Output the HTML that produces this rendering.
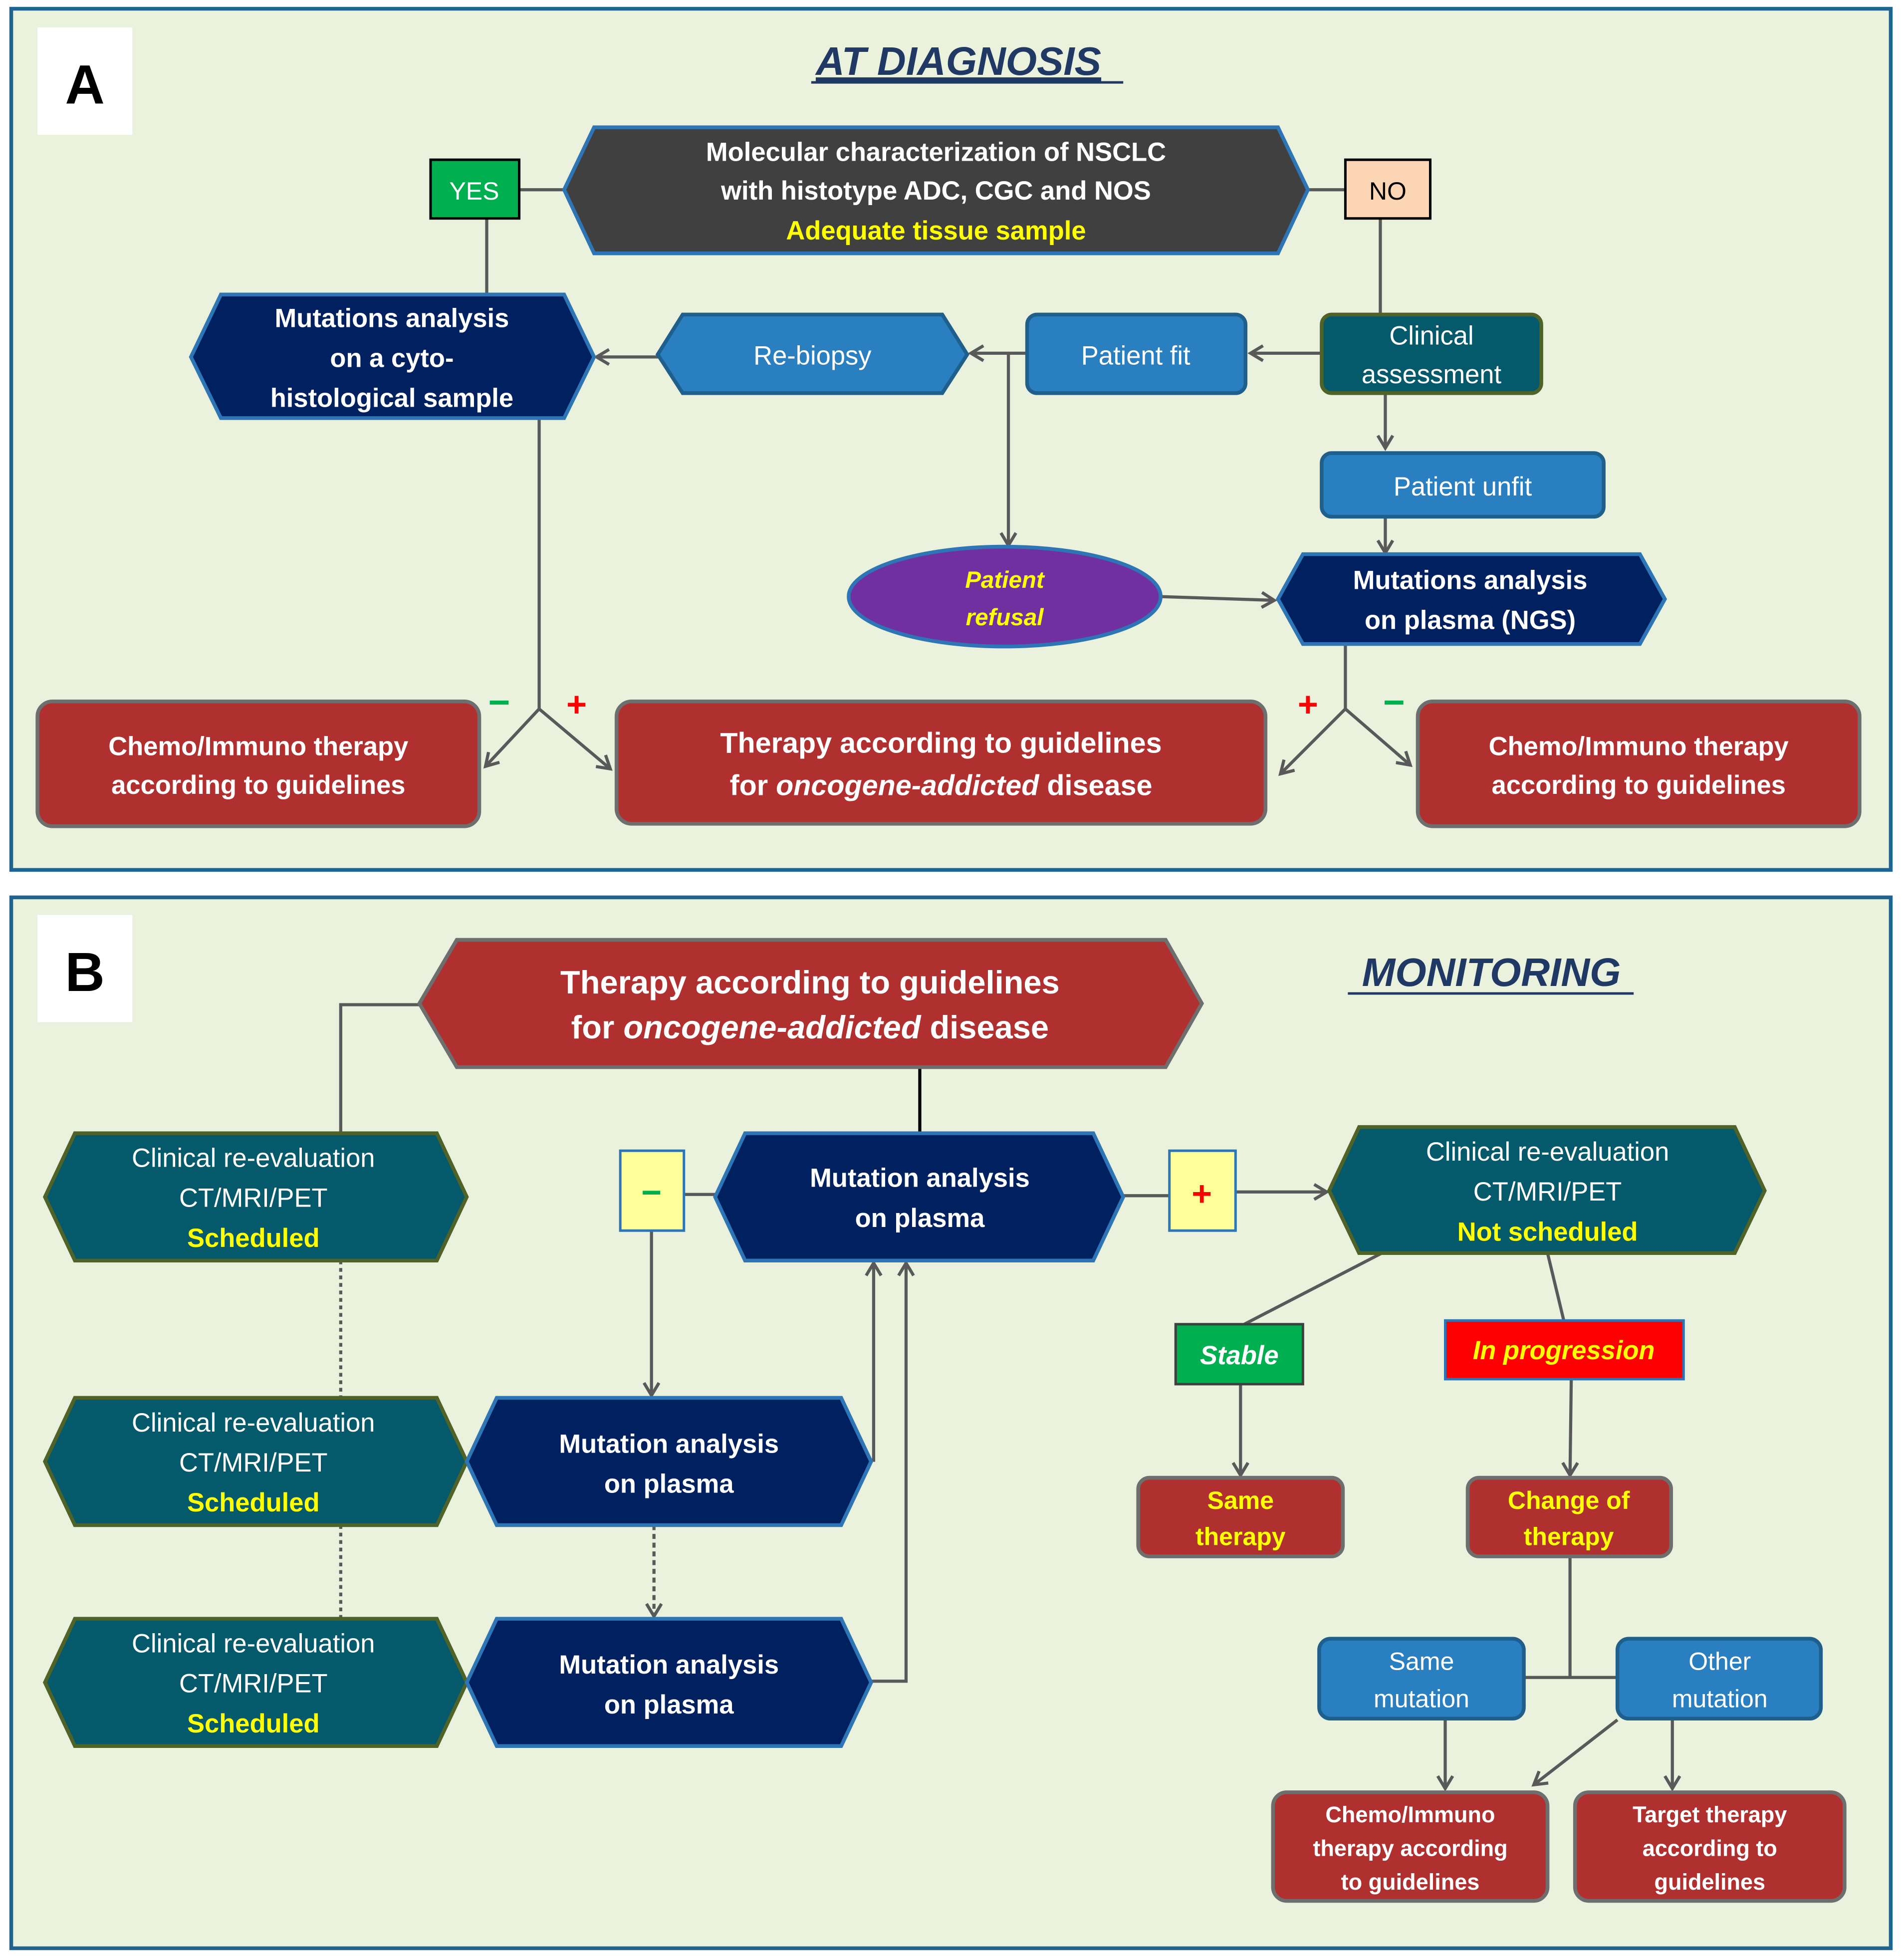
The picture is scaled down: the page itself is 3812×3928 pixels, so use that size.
<!DOCTYPE html>
<html><head><meta charset="utf-8"><style>
html,body{margin:0;padding:0;background:#fff;}
svg{display:block;}
text{font-family:"Liberation Sans",sans-serif;text-anchor:middle;}
.w{fill:#fff;font-weight:bold;}
.wn{fill:#fff;}
.y{fill:#FFFF00;font-weight:bold;}
.c{stroke:#595959;stroke-width:2.5;fill:none;}
</style></head><body>
<svg width="3812" height="3928" viewBox="0 0 1524 1570.4" xmlns="http://www.w3.org/2000/svg">
<defs>
<marker id="a" markerWidth="14" markerHeight="14" refX="11" refY="7" orient="auto" markerUnits="userSpaceOnUse">
<polyline points="1,1 11,7 1,13" fill="none" stroke="#595959" stroke-width="2.5"/>
</marker>
</defs>
<rect width="1524" height="1571" fill="#fff"/>
<rect x="9" y="7" width="1506" height="690" fill="#EAF1DD" stroke="#1F6391" stroke-width="3"/>
<rect x="9" y="719" width="1506" height="842" fill="#EAF1DD" stroke="#1F6391" stroke-width="3"/>
<rect x="30" y="22" width="76" height="86" fill="#fff"/>
<text x="68" y="83" font-size="44" font-weight="bold" fill="#000">A</text>
<rect x="30" y="733" width="76" height="86" fill="#fff"/>
<text x="68" y="794" font-size="44" font-weight="bold" fill="#000">B</text>

<!-- Panel A -->
<text x="768" y="60" font-size="32" font-weight="bold" font-style="italic" fill="#1F3864" text-decoration="underline">AT DIAGNOSIS</text>
<line x1="650" y1="66" x2="900" y2="66" stroke="#1F3864" stroke-width="2"/>

<!-- connectors A -->
<line class="c" x1="416" y1="152" x2="452" y2="152"/>
<line class="c" x1="1046" y1="152" x2="1078" y2="152"/>
<line class="c" x1="390" y1="175" x2="390" y2="237"/>
<line class="c" x1="1106" y1="175" x2="1106" y2="253"/>
<line class="c" x1="1059" y1="283" x2="1002" y2="283" marker-end="url(#a)"/>
<line class="c" x1="833" y1="283" x2="778" y2="283" marker-end="url(#a)"/>
<line class="c" x1="529" y1="286" x2="478" y2="286" marker-end="url(#a)"/>
<line class="c" x1="808" y1="283" x2="808" y2="437" marker-end="url(#a)"/>
<line class="c" x1="1110" y1="315" x2="1110" y2="359" marker-end="url(#a)"/>
<line class="c" x1="1110" y1="414" x2="1110" y2="443" marker-end="url(#a)"/>
<line class="c" x1="930" y1="478" x2="1021" y2="481" marker-end="url(#a)"/>
<polyline class="c" points="432,335 432,568"/>
<line class="c" x1="432" y1="568" x2="389" y2="614" marker-end="url(#a)"/>
<line class="c" x1="432" y1="568" x2="489" y2="616" marker-end="url(#a)"/>
<polyline class="c" points="1078,516 1078,568"/>
<line class="c" x1="1078" y1="568" x2="1026" y2="620" marker-end="url(#a)"/>
<line class="c" x1="1078" y1="568" x2="1130" y2="613" marker-end="url(#a)"/>
<text x="400" y="573" font-size="30" font-weight="bold" fill="#00B050">−</text>
<text x="462" y="574" font-size="28" font-weight="bold" fill="#FF0000">+</text>
<text x="1048" y="574" font-size="28" font-weight="bold" fill="#FF0000">+</text>
<text x="1117" y="573" font-size="30" font-weight="bold" fill="#00B050">−</text>

<!-- nodes A -->
<polygon points="476,102 1024,102 1048,152 1024,203 476,203 452,152" fill="#404040" stroke="#2E75B6" stroke-width="3"/>
<text class="w" x="750" y="129" font-size="21">Molecular characterization of NSCLC</text>
<text class="w" x="750" y="160" font-size="21">with histotype ADC, CGC and NOS</text>
<text class="y" x="750" y="192" font-size="21">Adequate tissue sample</text>
<rect x="345" y="128" width="71" height="47" fill="#00B050" stroke="#000" stroke-width="2"/>
<text class="wn" x="380" y="160" font-size="20">YES</text>
<rect x="1078" y="128" width="68" height="47" fill="#FCD5B4" stroke="#000" stroke-width="2"/>
<text x="1112" y="160" font-size="20" fill="#000">NO</text>

<polygon points="177,236 452,236 476,286 452,335 177,335 153,286" fill="#002060" stroke="#2E75B6" stroke-width="3"/>
<text class="w" x="314" y="262" font-size="21">Mutations analysis</text>
<text class="w" x="314" y="294" font-size="21">on a cyto-</text>
<text class="w" x="314" y="326" font-size="21">histological sample</text>

<polygon points="547,252 755,252 775,284 755,315 547,315 527,284" fill="#2A7FC1" stroke="#1F5F8B" stroke-width="3"/>
<text class="wn" x="651" y="292" font-size="21">Re-biopsy</text>
<rect x="823" y="252" width="175" height="63" rx="8" fill="#2A7FC1" stroke="#1F5F8B" stroke-width="3"/>
<text class="wn" x="910" y="292" font-size="21">Patient fit</text>
<rect x="1059" y="252" width="176" height="63" rx="8" fill="#04596A" stroke="#4F6228" stroke-width="3"/>
<text class="wn" x="1147" y="276" font-size="21">Clinical</text>
<text class="wn" x="1147" y="307" font-size="21">assessment</text>
<rect x="1059" y="363" width="226" height="51" rx="8" fill="#2A7FC1" stroke="#1F5F8B" stroke-width="3"/>
<text class="wn" x="1172" y="397" font-size="21">Patient unfit</text>
<ellipse cx="805" cy="478" rx="125" ry="40" fill="#7030A0" stroke="#2E75B6" stroke-width="3"/>
<text x="805" y="471" font-size="19" font-weight="bold" font-style="italic" fill="#FFFF00">Patient</text>
<text x="805" y="501" font-size="19" font-weight="bold" font-style="italic" fill="#FFFF00">refusal</text>
<polygon points="1044,444 1314,444 1334,480 1314,516 1044,516 1024,480" fill="#002060" stroke="#2E75B6" stroke-width="3"/>
<text class="w" x="1178" y="472" font-size="21">Mutations analysis</text>
<text class="w" x="1178" y="504" font-size="21">on plasma (NGS)</text>

<rect x="30" y="562" width="354" height="100" rx="12" fill="#B03030" stroke="#6E6E6E" stroke-width="3"/>
<text class="w" x="207" y="605" font-size="21">Chemo/Immuno  therapy</text>
<text class="w" x="207" y="636" font-size="21">according to guidelines</text>
<rect x="494" y="562" width="520" height="98" rx="12" fill="#B03030" stroke="#6E6E6E" stroke-width="3"/>
<text class="w" x="754" y="603" font-size="23">Therapy according to guidelines</text>
<text class="w" x="754" y="637" font-size="23">for <tspan font-style="italic">oncogene-addicted</tspan>  disease</text>
<rect x="1136" y="562" width="354" height="100" rx="12" fill="#B03030" stroke="#6E6E6E" stroke-width="3"/>
<text class="w" x="1313" y="605" font-size="21">Chemo/Immuno  therapy</text>
<text class="w" x="1313" y="636" font-size="21">according to guidelines</text>

<!-- Panel B -->
<text x="1195" y="790" font-size="32" font-weight="bold" font-style="italic" fill="#1F3864">MONITORING</text>
<line x1="1080" y1="796" x2="1309" y2="796" stroke="#1F3864" stroke-width="2"/>

<polyline class="c" points="336,805 273,805 273,908"/>
<line x1="737" y1="855" x2="737" y2="908" stroke="#000" stroke-width="2.5"/>
<line class="c" x1="273" y1="1010" x2="273" y2="1120" stroke-dasharray="3,3"/>
<line class="c" x1="273" y1="1222" x2="273" y2="1297" stroke-dasharray="3,3"/>
<line class="c" x1="548" y1="957" x2="575" y2="957"/>
<line class="c" x1="522" y1="986" x2="522" y2="1118" marker-end="url(#a)"/>
<line class="c" x1="524" y1="1222" x2="524" y2="1295" stroke-dasharray="4,3" marker-end="url(#a)"/>
<polyline class="c" points="698,1170 700,1170 700,1012" marker-end="url(#a)"/>
<polyline class="c" points="698,1347 726,1347 726,1012" marker-end="url(#a)"/>
<line class="c" x1="900" y1="958" x2="937" y2="958"/>
<line class="c" x1="990" y1="955" x2="1063" y2="955" marker-end="url(#a)"/>
<line class="c" x1="1115" y1="1000" x2="997" y2="1061"/>
<line class="c" x1="1240" y1="1004" x2="1253" y2="1058"/>
<line class="c" x1="994" y1="1109" x2="994" y2="1182" marker-end="url(#a)"/>
<line class="c" x1="1259" y1="1105" x2="1258" y2="1182" marker-end="url(#a)"/>
<polyline class="c" points="1258,1247 1258,1344"/>
<line class="c" x1="1220" y1="1344" x2="1296" y2="1344"/>
<line class="c" x1="1158" y1="1377" x2="1158" y2="1433" marker-end="url(#a)"/>
<line class="c" x1="1340" y1="1377" x2="1340" y2="1433" marker-end="url(#a)"/>
<line class="c" x1="1296" y1="1378" x2="1229" y2="1430" marker-end="url(#a)"/>

<polygon points="366,753 934,753 963,804 934,855 366,855 336,804" fill="#B03030" stroke="#6E6E6E" stroke-width="3"/>
<text class="w" x="649" y="796" font-size="26">Therapy according to guidelines</text>
<text class="w" x="649" y="832" font-size="26">for <tspan font-style="italic">oncogene-addicted</tspan>  disease</text>

<g id="cr">
<polygon points="60,908 350,908 374,959 350,1010 60,1010 36,959" fill="#04596A" stroke="#4F6228" stroke-width="3"/>
<text class="wn" x="203" y="935" font-size="21">Clinical re-evaluation</text>
<text class="wn" x="203" y="967" font-size="21">CT/MRI/PET</text>
<text class="y" x="203" y="999" font-size="21">Scheduled</text>
</g>
<use href="#cr" y="212"/>
<use href="#cr" y="389"/>

<polygon points="597,908 876,908 900,959 876,1010 597,1010 573,959" fill="#002060" stroke="#2E75B6" stroke-width="3"/>
<text class="w" x="737" y="951" font-size="21">Mutation analysis</text>
<text class="w" x="737" y="983" font-size="21">on plasma</text>
<g id="mp">
<polygon points="398,1120 674,1120 698,1171 674,1222 398,1222 374,1171" fill="#002060" stroke="#2E75B6" stroke-width="3"/>
<text class="w" x="536" y="1164" font-size="21">Mutation analysis</text>
<text class="w" x="536" y="1196" font-size="21">on plasma</text>
</g>
<use href="#mp" y="177"/>

<rect x="497" y="922" width="51" height="64" fill="#FFFF99" stroke="#2E75B6" stroke-width="2"/>
<text x="522" y="965" font-size="28" font-weight="bold" fill="#00B050">−</text>
<rect x="937" y="922" width="53" height="64" fill="#FFFF99" stroke="#2E75B6" stroke-width="2"/>
<text x="963" y="966" font-size="28" font-weight="bold" fill="#FF0000">+</text>

<polygon points="1089,903 1390,903 1414,954 1390,1004 1089,1004 1065,954" fill="#04596A" stroke="#4F6228" stroke-width="3"/>
<text class="wn" x="1240" y="930" font-size="21">Clinical re-evaluation</text>
<text class="wn" x="1240" y="962" font-size="21">CT/MRI/PET</text>
<text class="y" x="1240" y="994" font-size="21">Not scheduled</text>

<rect x="942" y="1061" width="102" height="48" fill="#00B050" stroke="#3F3F3F" stroke-width="2"/>
<text class="w" x="993" y="1093" font-size="21" font-style="italic">Stable</text>
<rect x="1158" y="1058" width="191" height="47" fill="#FF0000" stroke="#2E75B6" stroke-width="2"/>
<text class="y" x="1253" y="1089" font-size="21" font-style="italic">In progression</text>

<rect x="912" y="1184" width="164" height="63" rx="9" fill="#B03030" stroke="#6E6E6E" stroke-width="3"/>
<text class="y" x="994" y="1209" font-size="20">Same</text>
<text class="y" x="994" y="1238" font-size="20">therapy</text>
<rect x="1176" y="1184" width="163" height="63" rx="9" fill="#B03030" stroke="#6E6E6E" stroke-width="3"/>
<text class="y" x="1257" y="1209" font-size="20">Change of</text>
<text class="y" x="1257" y="1238" font-size="20">therapy</text>

<rect x="1057" y="1313" width="164" height="64" rx="9" fill="#2A7FC1" stroke="#1F5F8B" stroke-width="3"/>
<text class="wn" x="1139" y="1338" font-size="20">Same</text>
<text class="wn" x="1139" y="1368" font-size="20">mutation</text>
<rect x="1296" y="1313" width="163" height="64" rx="9" fill="#2A7FC1" stroke="#1F5F8B" stroke-width="3"/>
<text class="wn" x="1378" y="1338" font-size="20">Other</text>
<text class="wn" x="1378" y="1368" font-size="20">mutation</text>

<rect x="1020" y="1436" width="220" height="87" rx="11" fill="#B03030" stroke="#6E6E6E" stroke-width="3"/>
<text class="w" x="1130" y="1460" font-size="18">Chemo/Immuno</text>
<text class="w" x="1130" y="1487" font-size="18">therapy according</text>
<text class="w" x="1130" y="1514" font-size="18">to guidelines</text>
<rect x="1262" y="1436" width="216" height="87" rx="11" fill="#B03030" stroke="#6E6E6E" stroke-width="3"/>
<text class="w" x="1370" y="1460" font-size="18">Target therapy</text>
<text class="w" x="1370" y="1487" font-size="18">according to</text>
<text class="w" x="1370" y="1514" font-size="18">guidelines</text>
</svg>
</body></html>
